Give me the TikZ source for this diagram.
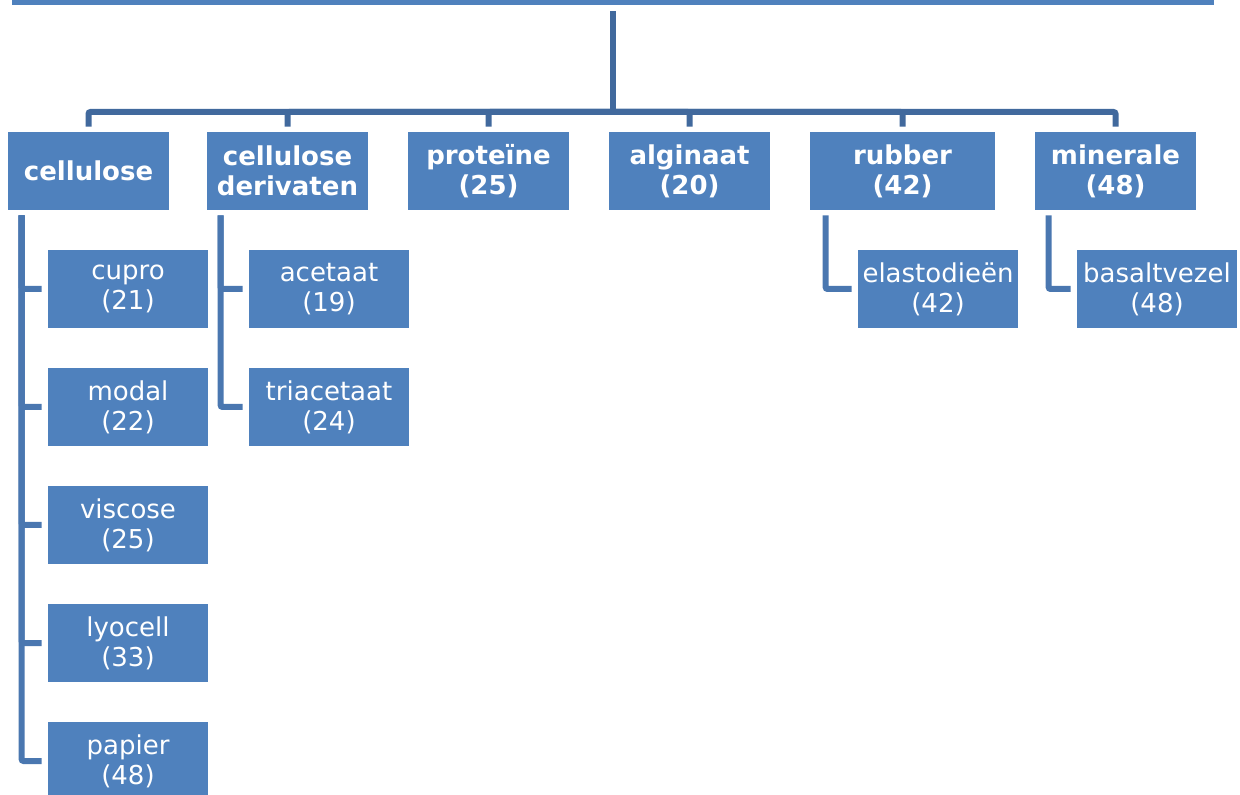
\documentclass[tikz,border=0pt]{standalone}
\usepackage{fontspec}
\setmainfont{DejaVu Sans}
\usepackage{tikz}
\usetikzlibrary{positioning,calc}
\usepackage{xcolor}
\definecolor{boxblue}{HTML}{4F81BD}
\definecolor{busblue}{HTML}{41699D}
\definecolor{legblue}{HTML}{4A77B0}

\begin{document}
\begin{tikzpicture}[x=0.5pt,y=-0.5pt,
	box/.style={fill=boxblue, draw=none, text=white, align=center, inner sep=0pt,
		minimum height=39pt, font=\fontsize{13}{15}\selectfont},
	catbox/.style={box, minimum width=80.5pt, font=\fontsize{13}{15}\selectfont\bfseries},
	leafbox/.style={box, minimum width=80pt},
	bus/.style={draw=busblue, line width=3pt, rounded corners=1pt},
	leg/.style={draw=legblue, line width=3pt, rounded corners=1pt, shorten <=2.5pt, shorten >=3pt}
	]
	\path[use as bounding box, clip] (0,0) rectangle (1240,795);

	% top (cut off)
	\node[box, minimum width=601pt, minimum height=30pt] (root) at (613,-25) {};

	% main groups
	\node[catbox] (cell) at (88.5,171) {cellulose};
	\node[catbox] (deriv) at (287.5,171) {cellulose\\derivaten};
	\node[catbox] (prot) at (488.5,171) {proteïne\\(25)};
	\node[catbox] (algi) at (689.5,171) {alginaat\\(20)};
	\node[catbox, minimum width=92.5pt] (rubb) at (902.5,171) {rubber\\(42)};
	\node[catbox] (mine) at (1115.5,171) {minerale\\(48)};

	% fibres
	\node[leafbox] (cupro) at (128,289) {cupro\\(21)};
	\node[leafbox] (modal) at (128,407) {modal\\(22)};
	\node[leafbox] (visc) at (128,525) {viscose\\(25)};
	\node[leafbox] (lyoc) at (128,643) {lyocell\\(33)};
	\node[leafbox] (papi) at (128,761) {papier\\(48)};
	\node[leafbox] (acet) at (329,289) {acetaat\\(19)};
	\node[leafbox] (triac) at (329,407) {triacetaat\\(24)};
	\node[leafbox] (elas) at (938,289) {elastodieën\\(42)};
	\node[leafbox] (basa) at (1157,289) {basaltvezel\\(48)};

	\coordinate (split) at (613,112);
	\draw[bus, shorten <=3pt] (root.south) -- (split);
	\foreach \n in {cell,deriv,prot,algi,rubb,mine}
		\draw[bus, shorten >=2.5pt] (split) -| (\n.north);

	\foreach \n in {cupro,modal,visc,lyoc,papi}
		\draw[leg] ([xshift=7pt]cell.south west) |- (\n.west);
	\foreach \n in {acet,triac}
		\draw[leg] ([xshift=7pt]deriv.south west) |- (\n.west);
	\draw[leg] ([xshift=8pt]rubb.south west) |- (elas.west);
	\draw[leg] ([xshift=7pt]mine.south west) |- (basa.west);

\end{tikzpicture}
\end{document}
